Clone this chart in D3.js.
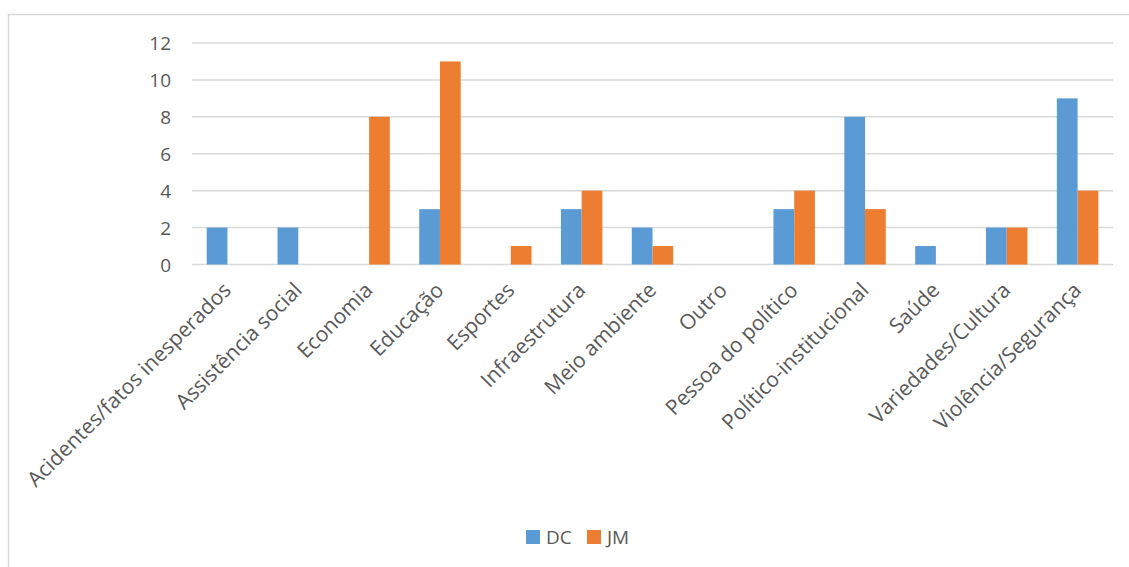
<!DOCTYPE html>
<html>
<head>
<meta charset="utf-8">
<script src="https://cdn.jsdelivr.net/npm/d3@7"></script>
<style>
  html, body { margin: 0; padding: 0; background: #fff; }
  svg text { font-family: "Open Sans", sans-serif; fill: #595959; }
</style>
</head>
<body>
<svg id="chart" width="1129" height="567"></svg>
<script>
const categories = [
  "Acidentes/fatos inesperados", "Assistência social", "Economia", "Educação",
  "Esportes", "Infraestrutura", "Meio ambiente", "Outro", "Pessoa do político",
  "Político-institucional", "Saúde", "Variedades/Cultura", "Violência/Segurança"
];
const seriesNames = ["DC", "JM"];
const dcValues = [2, 2, 0, 3, 0, 3, 2, 0, 3, 8, 1, 2, 9];
const jmValues = [0, 0, 8, 11, 1, 4, 1, 0, 4, 3, 0, 2, 4];
const yTicks = [0, 2, 4, 6, 8, 10, 12];
const colors = ["#5B9BD5", "#ED7D31"];

const svg = d3.select("#chart");

// chart frame
svg.append("rect")
  .attr("x", 8.5).attr("y", 14.5)
  .attr("width", 1200).attr("height", 600)
  .attr("fill", "none").attr("stroke", "#d9d9d9").attr("stroke-width", 1.5);

const plot = { left: 192, right: 1113, top: 43, bottom: 264.5 };

const x = d3.scaleBand().domain(categories).range([plot.left, plot.right]);
const inner = d3.scaleBand().domain(seriesNames)
  .range([0, x.bandwidth()]).paddingInner(0).paddingOuter(0.71);
const y = d3.scaleLinear().domain([0, 12]).range([plot.bottom, plot.top]);

// gridlines
svg.append("g").selectAll("line").data(yTicks).join("line")
  .attr("x1", plot.left).attr("x2", plot.right)
  .attr("y1", d => y(d)).attr("y2", d => y(d))
  .attr("stroke", "#d9d9d9").attr("stroke-width", 1.5);

// y axis labels
const yAxis = d3.axisLeft(y).tickValues(yTicks).tickSize(0).tickPadding(0);
const yg = svg.append("g").attr("transform", `translate(${plot.left - 21},0)`).call(yAxis);
yg.select(".domain").remove();
yg.selectAll("text").style("font-size", "19px").attr("fill", "#595959").attr("dy", "0.35em");

// bars
const rows = categories.map((c, i) => ({ c, vals: [dcValues[i], jmValues[i]] }));
const groups = svg.append("g").selectAll("g").data(rows).join("g")
  .attr("transform", d => `translate(${x(d.c)},0)`);
groups.selectAll("rect")
  .data(d => d.vals.map((v, k) => ({ v, s: seriesNames[k], k })))
  .join("rect")
  .filter(d => d.v > 0)
  .attr("x", d => inner(d.s))
  .attr("width", inner.bandwidth())
  .attr("y", d => y(d.v))
  .attr("height", d => y(0) - y(d.v))
  .attr("fill", d => colors[d.k]);

// category labels, rotated
svg.append("g").selectAll("text").data(categories).join("text")
  .attr("transform", d => `translate(${x(d) + x.bandwidth() / 2 + 5},${plot.bottom + 27}) rotate(-45)`)
  .attr("text-anchor", "end")
  .style("font-size", "21px")
  .text(d => d);

// legend
const legend = svg.append("g").attr("transform", "translate(526,530)");
const items = [{ name: "DC", dx: 0 }, { name: "JM", dx: 61 }];
items.forEach((it, k) => {
  legend.append("rect").attr("x", it.dx).attr("y", 0).attr("width", 14).attr("height", 14)
    .attr("fill", colors[k]);
  legend.append("text").attr("x", it.dx + 20).attr("y", 14)
    .style("font-size", "19px").text(it.name);
});
</script>
</body>
</html>
